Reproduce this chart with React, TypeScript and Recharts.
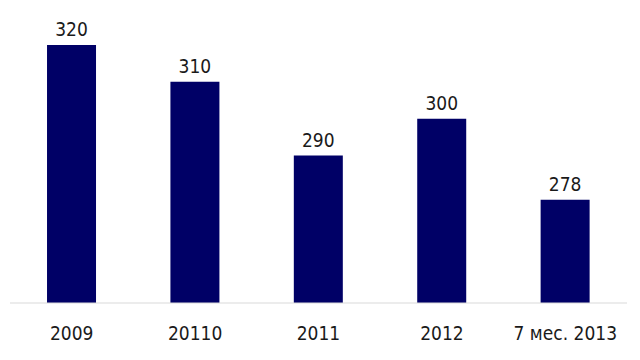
import { Bar, BarChart, LabelList, XAxis, YAxis } from 'recharts'

const years = ['2009', '20110', '2011', '2012', '7 мес. 2013']
const values = [320, 310, 290, 300, 278]

const NAVY = '#000066'
const FONT = '"DejaVu Sans Condensed", "DejaVu Sans", sans-serif'

const data = years.map((year, i) => ({ year, value: values[i] }))

export default function App() {
  return (
    <div style={{ position: 'absolute', left: 0, top: 0, width: 640, height: 360, background: '#fff' }}>
      <BarChart
        width={640}
        height={360}
        data={data}
        margin={{ top: 8, right: 13, bottom: 27, left: 10 }}
        barCategoryGap="30%"
      >
        <XAxis
          dataKey="year"
          height={30}
          stroke="#d9d9d9"
          tickLine={false}
          tickSize={0}
          tickMargin={24}
          tick={{ fill: '#1a1a1a', fontSize: 19, fontFamily: FONT, fontStretch: 'condensed' }}
          interval={0}
        />
        <YAxis hide domain={[250, 330]} />
        <Bar dataKey="value" fill={NAVY} isAnimationActive={false}>
          <LabelList
            dataKey="value"
            position="top"
            offset={9}
            fill="#1a1a1a"
            fontSize={19}
            fontFamily={FONT}
            style={{ fontStretch: 'condensed' }}
          />
        </Bar>
      </BarChart>
    </div>
  )
}
